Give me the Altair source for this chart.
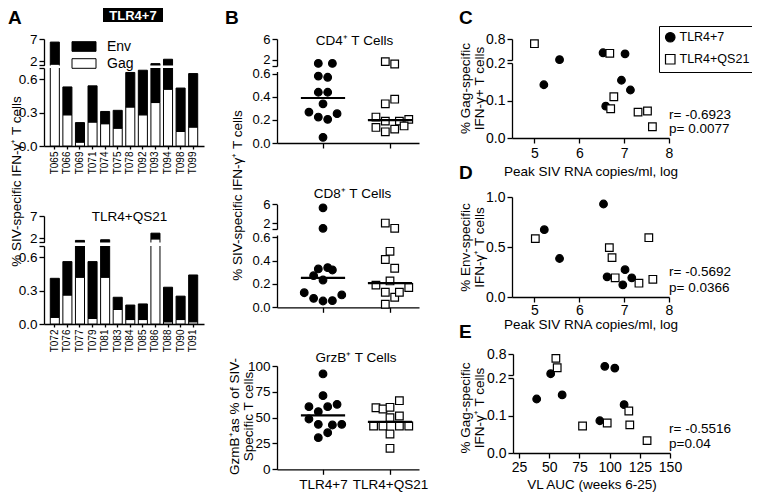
import altair as alt
import pandas as pd

FONT = "Liberation Sans"
W, H = 744, 485

# ---------------- data ----------------
GROUPS = ["TLR4+7", "TLR4+QS21"]
PARTS = ["Env", "Gag"]

# Panel A: per-animal Gag (white, bottom) and total Gag+Env (top of black)
A1_IDS = ["T065", "T066", "T069", "T071", "T074", "T075", "T078", "T092", "T093", "T094", "T098", "T099"]
A1_GAG = [1.3, 0.28, 0.035, 0.215, 0.20, 0.16, 0.35, 0.28, 0.39, 0.51, 0.13, 0.17]
A1_TOTAL = [6.3, 0.53, 0.21, 0.54, 0.31, 0.32, 0.66, 0.68, 1.4, 2.4, 0.52, 0.65]
A2_IDS = ["T072", "T076", "T077", "T079", "T081", "T083", "T084", "T085", "T086", "T088", "T090", "T091"]
A2_GAG = [0.06, 0.26, 0.42, 0.05, 0.42, 0.13, 0.04, 0.04, 1.8, 0.02, 0.04, 0.02]
A2_TOTAL = [0.41, 0.56, 1.45, 0.56, 1.6, 0.24, 0.17, 0.18, 3.1, 0.33, 0.25, 0.44]

# Panel B: values and jitter slots
CD4_T7 = [1.3, 1.3, 0.58, 0.57, 0.44, 0.44, 0.34, 0.268, 0.254, 0.225, 0.205, 0.049]
CD4_T7_JIT = [-1, 2, -1, 1, -1, 1, 0, -3, 3, -1, 1, 0]
CD4_QS = [1.65, 1.18, 0.34, 0.38, 0.225, 0.19, 0.19, 0.205, 0.135, 0.097, 0.12, 0.148]
CD4_QS_JIT = [-1, 1, -1, 1, -3, -1, 2, 4, -3, -1, 1, 3]
CD8_T7 = [5.26, 0.95, 0.329, 0.34, 0.32, 0.271, 0.234, 0.125, 0.077, 0.054, 0.057, 0.106]
CD8_T7_JIT = [0, 0, -1, 1, 2, -2, 0, -4, -2, 0, 2, 4]
CD8_QS = [2.05, 0.95, 0.48, 0.41, 0.335, 0.19, 0.226, 0.17, 0.129, 0.086, 0.129, 0.026]
CD8_QS_JIT = [-1, 1, 0, -1, 1, -3, 0, 4, -1, 1, 2, -1]
GRZB_T7 = [92.3, 71.3, 60.6, 60.6, 62.9, 55.8, 48.7, 43.5, 42.9, 43.5, 30.6, 35.4]
GRZB_T7_JIT = [0, 0, -3, 1, 3, -1, -3, -1, 2, 4, -1, 1]
GRZB_QS = [59.6, 58.4, 60.0, 66.4, 50.0, 51.6, 41.9, 41.9, 41.9, 41.9, 34.2, 20.3]
GRZB_QS_JIT = [-3, -1.5, 0, 2, 0, 2, -3.5, -1.5, 2, 4, 0, 0]

# Panels C, D, E
C_T7_X = [5.56, 5.21, 6.53, 7.02, 6.94, 7.14, 6.59]
C_T7_Y = [0.23, 0.142, 0.42, 0.39, 0.154, 0.128, 0.085]
C_QS_X = [5.0, 6.68, 6.77, 6.70, 7.31, 7.52, 7.63]
C_QS_Y = [0.67, 0.405, 0.110, 0.078, 0.069, 0.072, 0.030]
D_T7_X = [6.54, 5.22, 5.56, 7.02, 6.62, 7.17, 6.97]
D_T7_Y = [0.93, 0.673, 0.385, 0.273, 0.202, 0.192, 0.122]
D_QS_X = [5.02, 7.55, 6.67, 6.73, 6.80, 7.33, 7.64]
D_QS_Y = [0.584, 0.593, 0.494, 0.394, 0.192, 0.138, 0.177]
E_T7_X = [51.2, 96.0, 104.3, 39.6, 60.7, 112.0, 91.9]
E_T7_Y = [0.255, 0.46, 0.41, 0.144, 0.155, 0.129, 0.086]
E_QS_X = [55.5, 56.6, 115.9, 77.6, 98.0, 116.7, 131.0]
E_QS_Y = [0.68, 0.42, 0.112, 0.072, 0.080, 0.075, 0.033]

# tick values
A_YTICKS_UP = [2, 7]
A_YTICKS_LOW = [0, 0.3, 0.6]
B_YTICKS_UP = [2, 6]
B_YTICKS_LOW = [0, 0.2, 0.4, 0.6]
GRZB_YTICKS = [0, 25, 50, 75, 100]
C_YTICKS_UP = [0.8]
C_YTICKS_LOW = [0, 0.1, 0.2]
D_YTICKS = [0, 0.5, 1.0]
PEAK_XTICKS = [5, 6, 7, 8]
AUC_XTICKS = [25, 50, 75, 100, 125, 150]

STATS_C = ["r= -0.6923", "p= 0.0077"]
STATS_D = ["r= -0.5692", "p= 0.0366"]
STATS_E = ["r= -0.5516", "p=0.04"]

# axis segments (broken axes): lower segment and upper segment
A_LOW, A_UP = [0, 0.7], [1, 7]
B_LOW, B_UP = [0, 0.62], [0.8, 6]
C_LOW, C_UP = [0, 0.2], [0.22, 0.8]
PEAK_DOM = [4.5, 8]
AUC_DOM = [20, 150]
B_XDOM = [0.3134, 2.4328]


# ---------------- layout helpers (page pixel -> plot pixel) ----------------
def P(v):
    return v - 8


def scale(domain, rng):
    return alt.Scale(domain=domain, range=[P(r) for r in rng], nice=False, zero=False)


def left_axis(x_page, values, title=None, center=None, **kw):
    d = dict(orient="left", offset=-P(x_page), values=values, title=title)
    if title is not None:
        d.update(titleX=P(center[0]) - P(x_page), titleY=P(center[1]), titleAngle=270,
                 titleAlign="center", titleBaseline="middle", titleLineHeight=14)
    d.update(kw)
    return alt.Axis(**d)


def bottom_axis(y_page, **kw):
    d = dict(orient="bottom", offset=P(y_page) - H, title=None)
    d.update(kw)
    return alt.Axis(**d)


def axis_layer(values, sc, axis):
    return alt.Chart(pd.DataFrame({"v": values})).mark_point(opacity=0, size=1).encode(
        y=alt.Y("v:Q", scale=sc, axis=axis))


def label(text, x_page, y_page, size=13.5, weight="normal", color="black", align="left",
          baseline="alphabetic"):
    return alt.Chart(pd.DataFrame({"t": [text]})).mark_text(
        font=FONT, fontSize=size, fontWeight=weight, color=color, align=align, baseline=baseline
    ).encode(x=alt.value(P(x_page)), y=alt.value(P(y_page)), text="t:N")


layers = []

# ---------------- panel A ----------------
PART_SCALE = alt.Scale(domain=PARTS, range=["black", "white"])
A_X = [44, 204]


def bars_long(ids, gag, total):
    rows = []
    for i, g, t in zip(ids, gag, total):
        rows.append({"id": i, "part": "Gag", "lo": 0.0, "hi": g})
        rows.append({"id": i, "part": "Env", "lo": g, "hi": t})
    return pd.DataFrame(rows)


def a_panel(ids, gag, total, ypix, ytitle=None):
    # ypix: page y of [0, low_top, up_bottom, up_top]
    pw = scale([A_LOW[0], A_LOW[1], A_UP[0], A_UP[1]], ypix)
    df = bars_long(ids, gag, total)
    xaxis = bottom_axis(ypix[0], labelAngle=270, labelAlign="right", labelBaseline="middle",
                        labelFontSize=10, tickSize=3, labelPadding=2)
    out = [
        alt.Chart(df).mark_bar(stroke="black", strokeWidth=1).encode(
            x=alt.X("id:N", sort=ids, scale=alt.Scale(range=[P(v) for v in A_X], paddingInner=0.28,
                                                     paddingOuter=0.5), axis=xaxis),
            y=alt.Y("lo:Q", scale=pw, axis=None),
            y2="hi:Q",
            fill=alt.Fill("part:N", scale=PART_SCALE, legend=None),
        ),
        # white gap of the broken axis
        alt.Chart(pd.DataFrame({"lo": [A_LOW[1]], "hi": [A_UP[0]]})).mark_rect(color="white").encode(
            x=alt.value(P(A_X[0]) + 1), x2=alt.value(P(A_X[1])),
            y=alt.Y("lo:Q", scale=pw, axis=None), y2="hi:Q"),
        axis_layer(A_YTICKS_LOW + [A_LOW[1]], scale(A_LOW, ypix[:2]),
                   left_axis(A_X[0], A_YTICKS_LOW + [A_LOW[1]], title=ytitle, center=(16, 181),
                             labelExpr="datum.value > 0.65 ? '' : format(datum.value, '.1f')")),
        axis_layer([A_UP[0]] + A_YTICKS_UP, scale(A_UP, ypix[2:]),
                   left_axis(A_X[0], [A_UP[0]] + A_YTICKS_UP,
                             labelExpr="datum.value < 1.5 ? '' : format(datum.value, 'd')")),
    ]
    return out


layers += a_panel(A1_IDS, A1_GAG, A1_TOTAL, [146, 68, 65.4, 39], ytitle="% SIV-specific IFN-γ⁺ T cells")
layers += a_panel(A2_IDS, A2_GAG, A2_TOTAL, [324, 246, 242.4, 216])

# Env / Gag key (swatch + label per part)
key_df = pd.DataFrame({"part": PARTS})
key_y = alt.Y("part:N", scale=alt.Scale(type="point", padding=0, domain=PARTS,
                                        range=[P(46.5), P(63.5)]), axis=None)
layers += [
    alt.Chart(key_df).mark_point(shape="M-1.5,-0.6H1.5V0.6H-1.5Z", size=256, filled=True,
                                 stroke="black", strokeWidth=1, opacity=1).encode(
        x=alt.value(P(84)), y=key_y, fill=alt.Fill("part:N", scale=PART_SCALE, legend=None)),
    alt.Chart(key_df).mark_text(font=FONT, fontSize=14, align="left", baseline="middle", color="black").encode(
        x=alt.value(P(107)), y=key_y, text="part:N"),
]
layers += [
    alt.Chart(pd.DataFrame({"t": [GROUPS[0]]})).mark_rect(color="black").encode(
        x=alt.value(P(103)), x2=alt.value(P(163)), y=alt.value(P(8)), y2=alt.value(P(22))),
    label(GROUPS[0], 133, 15.5, size=13, weight="bold", color="white", align="center", baseline="middle"),
    label("A", 8, 23.5, size=19, weight="bold"),
    label(GROUPS[1], 129.5, 221, size=13.5, align="center"),
]

# ---------------- panel B ----------------
B_X = [277, 419]
XB = scale(B_XDOM, B_X)
POS_EXPR = "indexof(['TLR4+7','TLR4+QS21'], datum.group) + 1"
SHAPE_ENC = alt.Shape("group:N", scale=alt.Scale(domain=GROUPS, range=["circle", "square"]), legend=None)
FILL_ENC = alt.Fill("group:N", scale=alt.Scale(domain=GROUPS, range=["black", "white"]), legend=None)


def dots_df(v7, j7, vq, jq):
    return pd.DataFrame({"group": [GROUPS[0]] * len(v7) + [GROUPS[1]] * len(vq),
                         "value": v7 + vq, "jit": j7 + jq})


def b_panel(df, ydom, ypix, xaxis_y, show_labels, low_axis, up_axis=None):
    ysc = scale(ydom, ypix)
    xaxis = bottom_axis(xaxis_y, values=[1, 2], labels=show_labels, tickSize=5, labelPadding=3,
                        labelFontSize=13.5,
                        labelExpr="datum.value == 1 ? 'TLR4+7' : 'TLR4+QS21'")
    out = [
        alt.Chart(df).transform_calculate(pos=POS_EXPR + " + datum.jit * 0.07").mark_point(
            filled=True, size=58, stroke="black", strokeWidth=1.2, opacity=1).encode(
            x=alt.X("pos:Q", scale=XB, axis=xaxis),
            y=alt.Y("value:Q", scale=ysc, axis=None),
            shape=SHAPE_ENC, fill=FILL_ENC),
        alt.Chart(df).transform_aggregate(med="median(value)", groupby=["group"]).transform_calculate(
            gi=POS_EXPR).transform_calculate(x1="datum.gi - 0.33", x2="datum.gi + 0.33").mark_rule(
            color="black", strokeWidth=2.2).encode(
            x=alt.X("x1:Q", scale=XB, axis=None), x2="x2:Q",
            y=alt.Y("med:Q", scale=ysc, axis=None)),
    ]
    out += low_axis
    if up_axis:
        out += up_axis
    return out


def b_broken(df, ypix, ytitle=None, center=None):
    # ypix: page y of [0, low_top, up_bottom, up_top]
    low = axis_layer(B_YTICKS_LOW, scale(B_LOW, ypix[:2]),
                     left_axis(B_X[0], B_YTICKS_LOW, title=ytitle, center=center, format=".1f",
                               labelFontSize=13))
    up = axis_layer([B_UP[0]] + B_YTICKS_UP, scale(B_UP, ypix[2:]),
                    left_axis(B_X[0], [B_UP[0]] + B_YTICKS_UP, labelFontSize=13,
                              labelExpr="datum.value < 1 ? '' : format(datum.value, 'd')"))
    return b_panel(df, [B_LOW[0], B_LOW[1], B_UP[0], B_UP[1]], ypix, ypix[0], False, [low], [up])


df_cd4 = dots_df(CD4_T7, CD4_T7_JIT, CD4_QS, CD4_QS_JIT)
df_cd8 = dots_df(CD8_T7, CD8_T7_JIT, CD8_QS, CD8_QS_JIT)
df_grz = dots_df(GRZB_T7, GRZB_T7_JIT, GRZB_QS, GRZB_QS_JIT)

layers += b_broken(df_cd4, [143, 71.5, 66, 39])
layers += b_broken(df_cd8, [307.3, 235, 229, 204.3], ytitle="% SIV-specific IFN-γ⁺ T cells",
                   center=(237, 195))
grz_y = [469.3, 366]
layers += b_panel(df_grz, [0, 100], grz_y, grz_y[0], True,
                  [axis_layer(GRZB_YTICKS, scale([0, 100], grz_y),
                              left_axis(B_X[0], GRZB_YTICKS, title=["GzmB⁺as % of SIV-", "Specific T cells"],
                                        center=(234, 416), format="d"))])
layers += [
    label("B", 225, 23.5, size=19, weight="bold"),
    label("CD4⁺ T Cells", 354.5, 45, align="center"),
    label("CD8⁺ T Cells", 352.5, 198, align="center"),
    label("GrzB⁺ T Cells", 356, 362, align="center"),
]

# ---------------- panels C, D, E ----------------
C_X = [512, 669]
E_X = [513, 670]


def scatter_df(x7, y7, xq, yq):
    return pd.DataFrame({"group": [GROUPS[0]] * len(x7) + [GROUPS[1]] * len(xq),
                         "x": x7 + xq, "y": y7 + yq})


legend_groups = alt.Legend(title=None, orient="none", legendX=P(659), legendY=P(26),
                           strokeColor="black", padding=5, symbolSize=90,
                           symbolStrokeWidth=1.2,
                           labelFontSize=12.5, labelFont=FONT, labelColor="black",
                           labelOffset=3, rowPadding=7)


def sc_points(df, xdom, xpix, ydom, ypix, xaxis, legend=None):
    shape = alt.Shape("group:N", scale=alt.Scale(domain=GROUPS, range=["circle", "square"]), legend=legend)
    fill = alt.Fill("group:N", scale=alt.Scale(domain=GROUPS, range=["black", "white"]), legend=legend)
    stroke = alt.Stroke("group:N", scale=alt.Scale(domain=GROUPS, range=["black", "black"]), legend=legend)
    return alt.Chart(df).mark_point(filled=True, size=58, strokeWidth=1.2, opacity=1).encode(
        x=alt.X("x:Q", scale=scale(xdom, xpix), axis=xaxis),
        y=alt.Y("y:Q", scale=scale(ydom, ypix), axis=None),
        shape=shape, fill=fill, stroke=stroke)


def broken_scatter(df, xdom, xpix, ypix, xticks, xtitle, lp, tp, ytitle, center, legend=None):
    xaxis = bottom_axis(ypix[0], values=xticks, format="d", title=xtitle, tickSize=5,
                        labelPadding=lp, titlePadding=tp, labelFontSize=14)
    return [
        sc_points(df, xdom, xpix, [C_LOW[0], C_LOW[1], C_UP[0], C_UP[1]], ypix, xaxis, legend),
        axis_layer(C_YTICKS_LOW, scale(C_LOW, ypix[:2]),
                   left_axis(xpix[0], C_YTICKS_LOW, title=ytitle, center=center, format=".1f",
                             labelFontSize=14)),
        axis_layer([C_UP[0]] + C_YTICKS_UP, scale(C_UP, ypix[2:]),
                   left_axis(xpix[0], [C_UP[0]] + C_YTICKS_UP, labelFontSize=14,
                             labelExpr="datum.value < 0.5 ? '' : format(datum.value, '.1f')")),
    ]


df_c = scatter_df(C_T7_X, C_T7_Y, C_QS_X, C_QS_Y)
df_d = scatter_df(D_T7_X, D_T7_Y, D_QS_X, D_QS_Y)
df_e = scatter_df(E_T7_X, E_T7_Y, E_QS_X, E_QS_Y)

layers += broken_scatter(df_c, PEAK_DOM, C_X, [138, 63, 60, 39], PEAK_XTICKS,
                         "Peak SIV RNA copies/ml, log", 3, 4, ["% Gag-specific", "IFN-γ+ T cells"],
                         (465, 88), legend=legend_groups)
d_y = [297, 197]
layers += [
    sc_points(df_d, PEAK_DOM, C_X, [0, 1], d_y,
              bottom_axis(d_y[0], values=PEAK_XTICKS, format="d", title="Peak SIV RNA copies/ml, log",
                          tickSize=5, labelPadding=1, titlePadding=0, labelFontSize=14)),
    axis_layer(D_YTICKS, scale([0, 1], d_y),
               left_axis(C_X[0], D_YTICKS, title=["% Env-specific", "IFN-γ⁺ T cells"], center=(465, 247),
                         format=".1f", labelFontSize=14)),
]
layers += broken_scatter(df_e, AUC_DOM, E_X, [453, 378, 375, 354], AUC_XTICKS,
                         "VL AUC (weeks 6-25)", 2, 3, ["% Gag-specific", "IFN-γ⁺ T cells"], (465, 407.5))
layers += [
    label("C", 459, 23.5, size=19, weight="bold"),
    label("D", 459, 179, size=19, weight="bold"),
    label("E", 459, 338, size=19, weight="bold"),
    label(STATS_C[0], 669, 115, baseline="middle"),
    label(STATS_C[1], 669, 129, baseline="middle"),
    label(STATS_D[0], 669, 272, baseline="middle"),
    label(STATS_D[1], 669, 288, baseline="middle"),
    label(STATS_E[0], 669, 429, baseline="middle"),
    label(STATS_E[1], 669, 444, baseline="middle"),
]

chart = alt.layer(*layers).resolve_scale(
    x="independent", y="independent", fill="independent", shape="independent", stroke="independent"
).resolve_axis(x="independent", y="independent").properties(
    width=W, height=H, autosize=alt.AutoSizeParams(type="none"), padding=0
).configure_view(stroke=None).configure_axis(
    domainColor="black", domainWidth=1.3, tickColor="black", tickWidth=1.3, tickSize=5,
    labelFont=FONT, labelFontSize=13.5, labelColor="black", labelPadding=2,
    titleFont=FONT, titleFontSize=13.5, titleFontWeight="normal", titleColor="black",
    grid=False, labelFlush=False, labelOverlap=False,
).configure_text(font=FONT)

chart.save("out.html", embed_options={"renderer": "svg", "actions": False})
